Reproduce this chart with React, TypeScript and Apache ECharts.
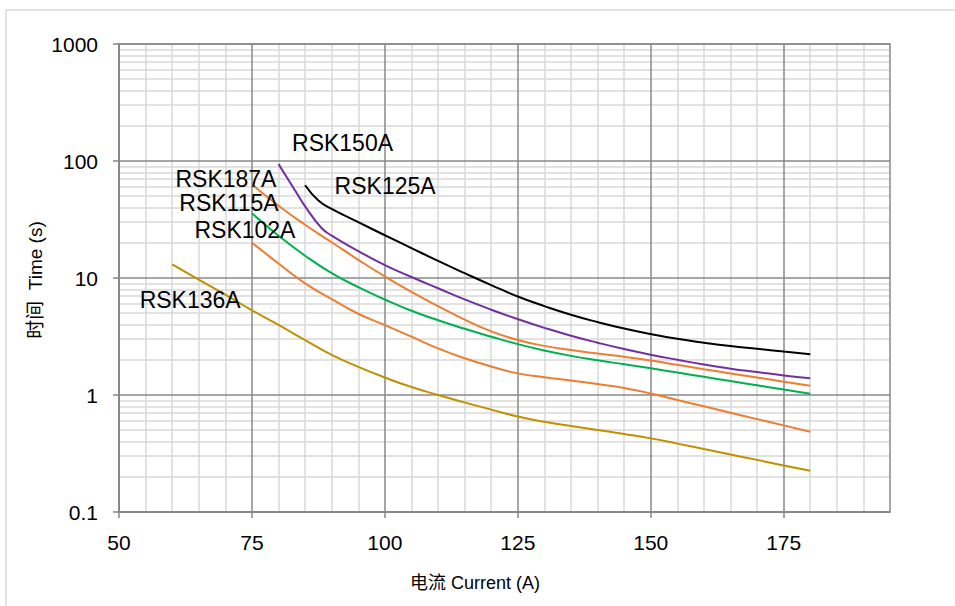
import React, { useEffect, useRef } from "react";
import * as echarts from "echarts";

// Axis structure
const xTickValues = [50, 75, 100, 125, 150, 175];
const xMinorGrid = [55, 60, 65, 70, 80, 85, 90, 95, 105, 110, 115, 120, 130, 135, 140, 145, 155, 160, 165, 170, 180, 185, 190];
const yMinorGrid = [
  0.2, 0.3, 0.4, 0.5, 0.6, 0.7, 0.8, 0.9,
  2, 3, 4, 5, 6, 7, 8, 9,
  20, 30, 40, 50, 60, 70, 80, 90,
  200, 300, 400, 500, 600, 700, 800, 900,
];

// Series data (current in A, time in s)
const rsk125A_current = [85, 87.5, 90, 95, 100, 105, 110, 115, 120, 125, 130, 135, 140, 145, 150, 155, 160, 165, 170, 175, 180];
const rsk125A_time = [62, 46, 39, 30, 23.2, 18, 14, 11, 8.7, 6.95, 5.75, 4.85, 4.2, 3.7, 3.32, 3.02, 2.8, 2.62, 2.48, 2.35, 2.23];

const rsk150A_current = [80, 83, 85, 88, 90, 95, 100, 105, 110, 115, 120, 125, 130, 135, 140, 145, 150, 155, 160, 165, 170, 175, 180];
const rsk150A_time = [94, 57, 41, 27, 23, 17, 12.9, 10.2, 8.17, 6.56, 5.36, 4.45, 3.75, 3.21, 2.8, 2.47, 2.21, 2.0, 1.82, 1.68, 1.57, 1.47, 1.39];

const rsk187A_current = [75, 80, 85, 90, 95, 100, 105, 110, 115, 120, 125, 130, 135, 140, 145, 150, 155, 160, 165, 170, 175, 180];
const rsk187A_time = [63, 41.5, 28.5, 20.2, 14.3, 10.3, 7.6, 5.75, 4.4, 3.5, 2.95, 2.63, 2.42, 2.26, 2.12, 1.97, 1.81, 1.66, 1.53, 1.41, 1.3, 1.2];

const rsk115A_current = [75, 80, 85, 90, 95, 100, 105, 110, 115, 120, 125, 130, 135, 140, 145, 150, 155, 160, 165, 170, 175, 180];
const rsk115A_time = [35.7, 23, 15.5, 11, 8.35, 6.55, 5.25, 4.35, 3.68, 3.15, 2.72, 2.4, 2.16, 1.98, 1.83, 1.69, 1.555, 1.43, 1.315, 1.21, 1.115, 1.025];

const rsk102A_current = [75, 77, 80, 85, 90, 95, 100, 105, 110, 115, 120, 125, 130, 135, 140, 145, 150, 155, 160, 165, 170, 175, 180];
const rsk102A_time = [20, 17, 13.3, 9.0, 6.6, 4.95, 3.95, 3.15, 2.5, 2.06, 1.75, 1.53, 1.42, 1.33, 1.24, 1.15, 1.03, 0.905, 0.8, 0.705, 0.622, 0.55, 0.486];

const rsk136A_current = [60, 65, 70, 75, 80, 85, 90, 95, 100, 105, 110, 115, 120, 125, 130, 135, 140, 145, 150, 155, 160, 165, 170, 175, 180];
const rsk136A_time = [13.1, 9.7, 7.2, 5.3, 3.97, 2.95, 2.2, 1.74, 1.41, 1.17, 1.0, 0.865, 0.75, 0.655, 0.59, 0.543, 0.502, 0.464, 0.426, 0.384, 0.345, 0.31, 0.279, 0.25, 0.225];

const FONT = "'Liberation Sans', Arial, 'Noto Sans CJK SC', sans-serif";

type Curve = {
  name: string;
  color: string;
  current: number[];
  time: number[];
  labelOffset: [number, number];
};

const curves: Curve[] = [
  { name: "RSK125A", color: "#000000", current: rsk125A_current, time: rsk125A_time, labelOffset: [80, 1] },
  { name: "RSK150A", color: "#7030A0", current: rsk150A_current, time: rsk150A_time, labelOffset: [64, -21] },
  { name: "RSK187A", color: "#ED7D31", current: rsk187A_current, time: rsk187A_time, labelOffset: [-26, -5] },
  { name: "RSK115A", color: "#00B050", current: rsk115A_current, time: rsk115A_time, labelOffset: [-23, -10] },
  { name: "RSK102A", color: "#ED7D31", current: rsk102A_current, time: rsk102A_time, labelOffset: [-7, -13] },
  { name: "RSK136A", color: "#BF9000", current: rsk136A_current, time: rsk136A_time, labelOffset: [18, 36] },
];

export default function App() {
  const ref = useRef<HTMLDivElement>(null);

  useEffect(() => {
    if (!ref.current) return;
    const chart = echarts.init(ref.current, undefined, { renderer: "svg" });

    const curveSeries = curves.map((c) => ({
      type: "line",
      name: c.name,
      z: 3,
      smooth: 0.5,
      symbol: "circle",
      symbolSize: 0,
      showSymbol: true,
      silent: true,
      lineStyle: { color: c.color, width: 2 },
      itemStyle: { color: c.color },
      data: c.current.map((x, i) =>
        i === 0
          ? {
              value: [x, c.time[i]],
              label: {
                show: true,
                formatter: c.name,
                position: "inside",
                offset: c.labelOffset,
                align: "center",
                verticalAlign: "middle",
                color: "#000",
                fontSize: 23,
                lineHeight: 20,
                fontFamily: FONT,
              },
            }
          : { value: [x, c.time[i]], label: { show: false } }
      ),
    }));

    const gridSeries = {
      type: "line",
      name: "grid",
      data: [],
      silent: true,
      z: 1,
      markLine: {
        z: 1,
        silent: true,
        animation: false,
        symbol: ["none", "none"],
        label: { show: false },
        emphasis: { disabled: true },
        lineStyle: { color: "#d9d9d9", width: 1.5, type: "solid" },
        data: [
          ...xMinorGrid.map((v) => ({ xAxis: v })),
          ...yMinorGrid.map((v) => ({ yAxis: v })),
        ],
      },
    };

    chart.setOption({
      animation: false,
      grid: {
        left: 119,
        top: 44,
        right: 65,
        bottom: 94,
        show: true,
        z: 2,
        backgroundColor: "transparent",
        borderColor: "#898989",
        borderWidth: 1.5,
      },
      xAxis: {
        type: "value",
        min: 50,
        max: 195,
        interval: 25,
        z: 2,
        axisLine: { show: true, lineStyle: { color: "#868686", width: 1.5 } },
        axisTick: {
          show: true,
          customValues: xTickValues,
          length: 6,
          lineStyle: { color: "#868686", width: 1.5 },
        },
        axisLabel: {
          customValues: xTickValues,
          margin: 20,
          color: "#000",
          fontSize: 21,
          fontFamily: FONT,
        },
        splitLine: { show: true, lineStyle: { color: "#898989", width: 1.5 } },
      },
      yAxis: {
        type: "log",
        logBase: 10,
        min: 0.1,
        max: 1000,
        z: 2,
        axisLine: { show: true, lineStyle: { color: "#868686", width: 1.5 } },
        axisTick: { show: true, length: 6, lineStyle: { color: "#868686", width: 1.5 } },
        axisLabel: {
          margin: 21,
          color: "#000",
          fontSize: 21,
          fontFamily: FONT,
          formatter: (v: number) => String(Number(v.toPrecision(6))),
        },
        splitLine: { show: true, lineStyle: { color: "#898989", width: 1.5 } },
      },
      graphic: [
        {
          type: "rect",
          z: -10,
          silent: true,
          shape: { x: 6, y: 10, width: 1000, height: 700 },
          style: { fill: "none", stroke: "#d9d9d9", lineWidth: 1.5 },
        },
        {
          type: "text",
          x: 475,
          y: 583,
          silent: true,
          style: {
            text: "电流 Current (A)",
            fontSize: 18,
            fontFamily: FONT,
            fill: "#000",
            align: "center",
            verticalAlign: "middle",
          },
        },
        {
          type: "text",
          x: 35,
          y: 280,
          rotation: Math.PI / 2,
          silent: true,
          style: {
            text: "时间  Time (s)",
            fontSize: 19,
            fontFamily: FONT,
            fill: "#000",
            align: "center",
            verticalAlign: "middle",
          },
        },
      ],
      series: [gridSeries, ...curveSeries],
    });

    return () => chart.dispose();
  }, []);

  return (
    <div
      ref={ref}
      style={{ position: "fixed", left: 0, top: 0, width: 955, height: 606, background: "#fff" }}
    />
  );
}
